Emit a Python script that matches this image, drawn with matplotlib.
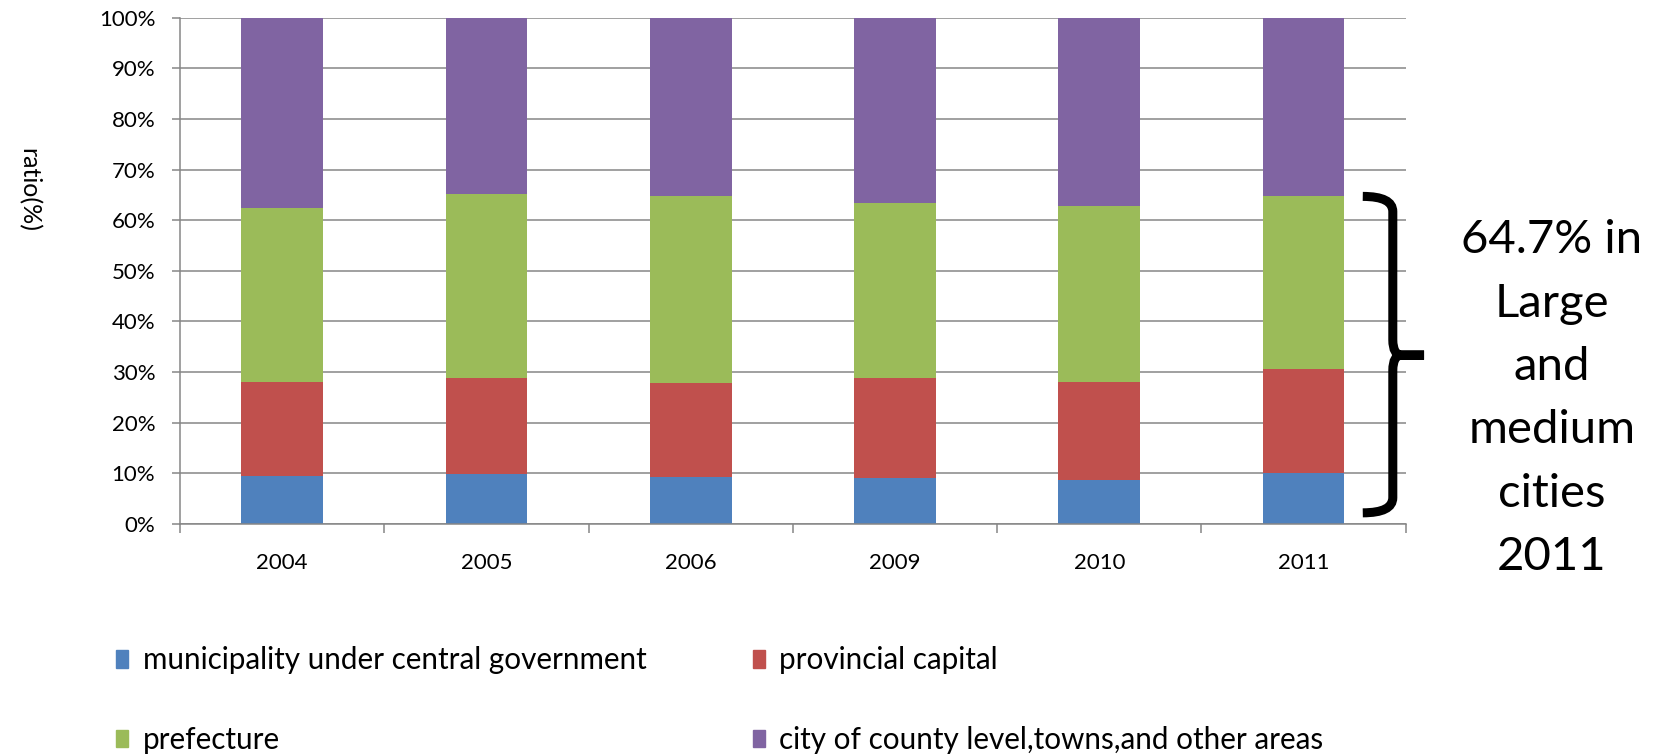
import matplotlib
matplotlib.use('Agg')
from matplotlib import pyplot as plt
from matplotlib.patches import Patch, PathPatch
from matplotlib.path import Path
from matplotlib.ticker import FixedLocator

plt.rcParams['font.family'] = ['Lato', 'DejaVu Sans']

years = ['2004', '2005', '2006', '2009', '2010', '2011']
municipality = [9.5, 9.9, 9.3, 9.0, 8.7, 10.1]
provincial = [18.5, 19.0, 18.6, 19.8, 19.4, 20.6]
prefecture = [34.4, 36.2, 36.9, 34.5, 34.8, 34.0]
county_towns = [37.6, 34.9, 35.2, 36.7, 37.1, 35.3]

series_names = ['municipality under central government', 'provincial capital',
                'prefecture', 'city of county level,towns,and other areas']
colors = ['#4F81BD', '#C0504D', '#9BBB59', '#8064A2']
grid_gray = '#868686'

# share of large and medium cities in the last year (first three series)
large_medium_2011 = municipality[-1] + provincial[-1] + prefecture[-1]


def main():
    fig = plt.figure(figsize=(16.59, 7.55), dpi=100)
    ax = fig.add_axes([0.1085, 0.306, 0.7388, 0.6706])

    x = list(range(len(years)))
    bottom = [0.0] * len(years)
    for values, color in zip([municipality, provincial, prefecture, county_towns], colors):
        ax.bar(x, values, width=0.4, bottom=bottom, color=color, zorder=2)
        bottom = [bt + v for bt, v in zip(bottom, values)]

    ax.set_xlim(-0.5, len(years) - 0.5)
    ax.set_ylim(0, 100)
    ax.set_yticks(range(0, 101, 10))
    ax.set_yticklabels([f'{v}%' for v in range(0, 101, 10)], fontsize=16)
    ax.set_xticks(x)
    ax.set_xticklabels(years, fontsize=16)
    ax.xaxis.set_minor_locator(FixedLocator([i - 0.5 for i in range(len(years) + 1)]))
    ax.tick_params(axis='x', which='major', length=0, pad=21)
    ax.tick_params(axis='x', which='minor', length=6.5, width=1.1, color=grid_gray)
    ax.tick_params(axis='y', length=5.8, width=1.1, color=grid_gray, pad=12)

    ax.grid(axis='y', color=grid_gray, linewidth=1.1, zorder=0)
    ax.set_axisbelow(True)
    for side in ['top', 'right']:
        ax.spines[side].set_visible(False)
    for side in ['left', 'bottom']:
        ax.spines[side].set_color(grid_gray)
        ax.spines[side].set_linewidth(1.1)

    fig.text(0.017, 0.749, 'ratio(%)', rotation=-90, fontsize=18,
             ha='center', va='center')

    # curly brace spanning the large and medium city share of 2011
    top = large_medium_2011
    mid = top / 2 + 1.0
    low = 2.2
    xa, xv, xt = 5.29, 5.437, 5.59
    verts = [(xa, top), (xv, top), (xv, top - 3.0),
             (xv, mid + 3.0), (xv, mid), (xv + 0.045, mid),
             (xt, mid), (xv + 0.045, mid),
             (xv, mid), (xv, mid - 3.0),
             (xv, low + 3.0), (xv, low), (xa, low)]
    codes = [Path.MOVETO, Path.CURVE3, Path.CURVE3,
             Path.LINETO, Path.CURVE3, Path.CURVE3,
             Path.LINETO, Path.LINETO,
             Path.CURVE3, Path.CURVE3,
             Path.LINETO, Path.CURVE3, Path.CURVE3]
    brace = PathPatch(Path(verts, codes), fill=False, lw=6.5, color='black',
                      capstyle='butt', joinstyle='miter', clip_on=False)
    ax.add_patch(brace)

    fig.text(0.9355, 0.472, f'{large_medium_2011:.1f}% in\nLarge\nand\nmedium\ncities\n2011',
             fontsize=34, ha='center', va='center', multialignment='center',
             linespacing=1.63)

    handles = [Patch(color=c) for c in colors]
    order = [0, 2, 1, 3]
    fig.legend([handles[i] for i in order], [series_names[i] for i in order],
               ncol=2, loc='upper left', bbox_to_anchor=(0.0699, 0.144),
               frameon=False, fontsize=21.3, handlelength=0.4, handleheight=0.55,
               handletextpad=0.5, labelspacing=1.75, columnspacing=3.6,
               borderaxespad=0, borderpad=0)

    fig.savefig('out.png', dpi=100)
    plt.close(fig)


if __name__ == "__main__":
    main()
